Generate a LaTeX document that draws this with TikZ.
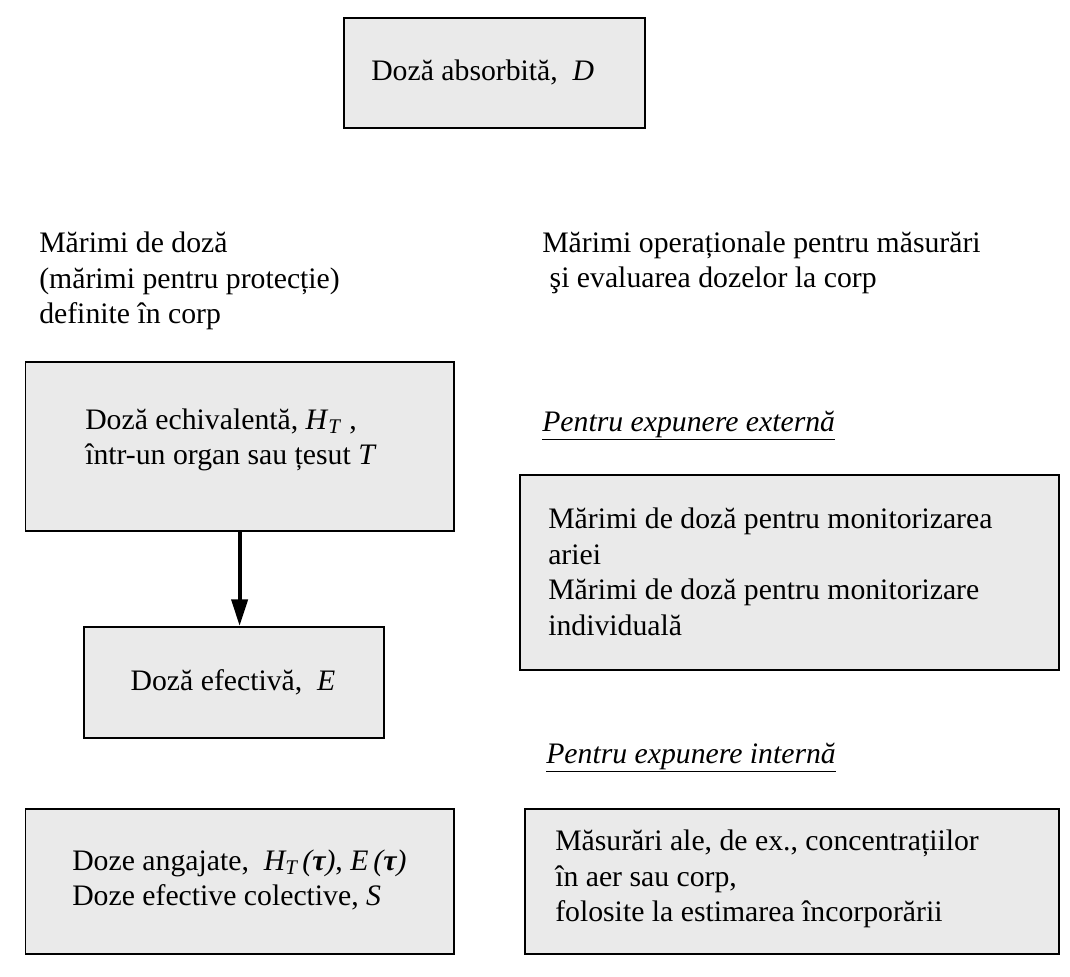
\documentclass[tikz,border=0pt]{standalone}
\usepackage{fontspec}
\setmainfont{Liberation Serif}
\usetikzlibrary{arrows.meta}
\definecolor{boxgray}{HTML}{EAEAEA}
\begin{document}
\begin{tikzpicture}[x=0.75pt,y=-0.75pt,
  box/.style={draw=black, fill=boxgray, line width=1.2pt, inner sep=0pt, anchor=north west},
  txt/.style={inner sep=0pt, align=left, font=\fontsize{22.3}{26.6}\selectfont},
  head/.style={inner sep=0pt, anchor=base west, font=\fontsize{22.3}{26.6}\selectfont\itshape},
  flow/.style={line width=3pt, -{Triangle[length=20pt,width=12pt]}},
  ]
\useasboundingbox (0,0) rectangle (1070,977);

% boxes
\node[box, minimum width=225.75pt, minimum height=82.5pt] (absorbed) at (343,17) {};
\node[box, minimum width=321.3pt, minimum height=126.75pt] (equiv) at (24.6,361) {};
\node[box, minimum width=225pt, minimum height=83.25pt] (eff) at (83,626) {};
\node[box, minimum width=321.3pt, minimum height=108.75pt] (committed) at (24.6,808) {};
\node[box, minimum width=404.25pt, minimum height=146.25pt] (external) at (519,474) {};
\node[box, minimum width=400.5pt, minimum height=108.75pt] (internal) at (524,808) {};

% box texts
\node[txt, anchor=west] (tabsorbed) at (371,72) {Doză absorbită,\ \ \textit{D}};
\node[txt, anchor=west] (tequiv) at (85,440)
  {Doză echivalentă, \textit{H}\textsubscript{\textit{T}}\ ,\\
   într-un organ sau țesut \textit{T}};
\node[txt, align=center] (teff) at (233,682) {Doză efectivă,\ \ \textit{E}};
\node[txt, anchor=west] (tcommitted) at (72,880)
  {Doze angajate,\ \ \textit{H\textsubscript{T}\,(\textbf{τ})}, \textit{E\,(\textbf{τ})}\\
   Doze efective colective, \textit{S}};
\node[txt, anchor=west] (texternal) at (548,572)
  {Mărimi de doză pentru monitorizarea\\
   ariei\\
   Mărimi de doză pentru monitorizare\\
   individuală};
\node[txt, anchor=west] (tinternal) at (555,879)
  {Măsurări ale, de ex., concentrațiilor\\
   în aer sau corp,\\
   folosite la estimarea încorporării};

% column headings
\node[txt, anchor=west] (leftcol) at (39,281)
  {Mărimi de doză\\
   (mărimi pentru protecție)\\
   definite în corp};
\node[txt, anchor=west] (rightcol) at (542,263)
  {Mărimi operaționale pentru măsurări\\
   \ şi evaluarea dozelor la corp};
\node[head] (hext) at (542,431) {\underline{Pentru expunere externă}};
\node[head] (hint) at (546,763) {\underline{Pentru expunere internă}};

% connector
\draw[flow] (equiv.south) -- (equiv.south |- eff.north);
\end{tikzpicture}
\end{document}
